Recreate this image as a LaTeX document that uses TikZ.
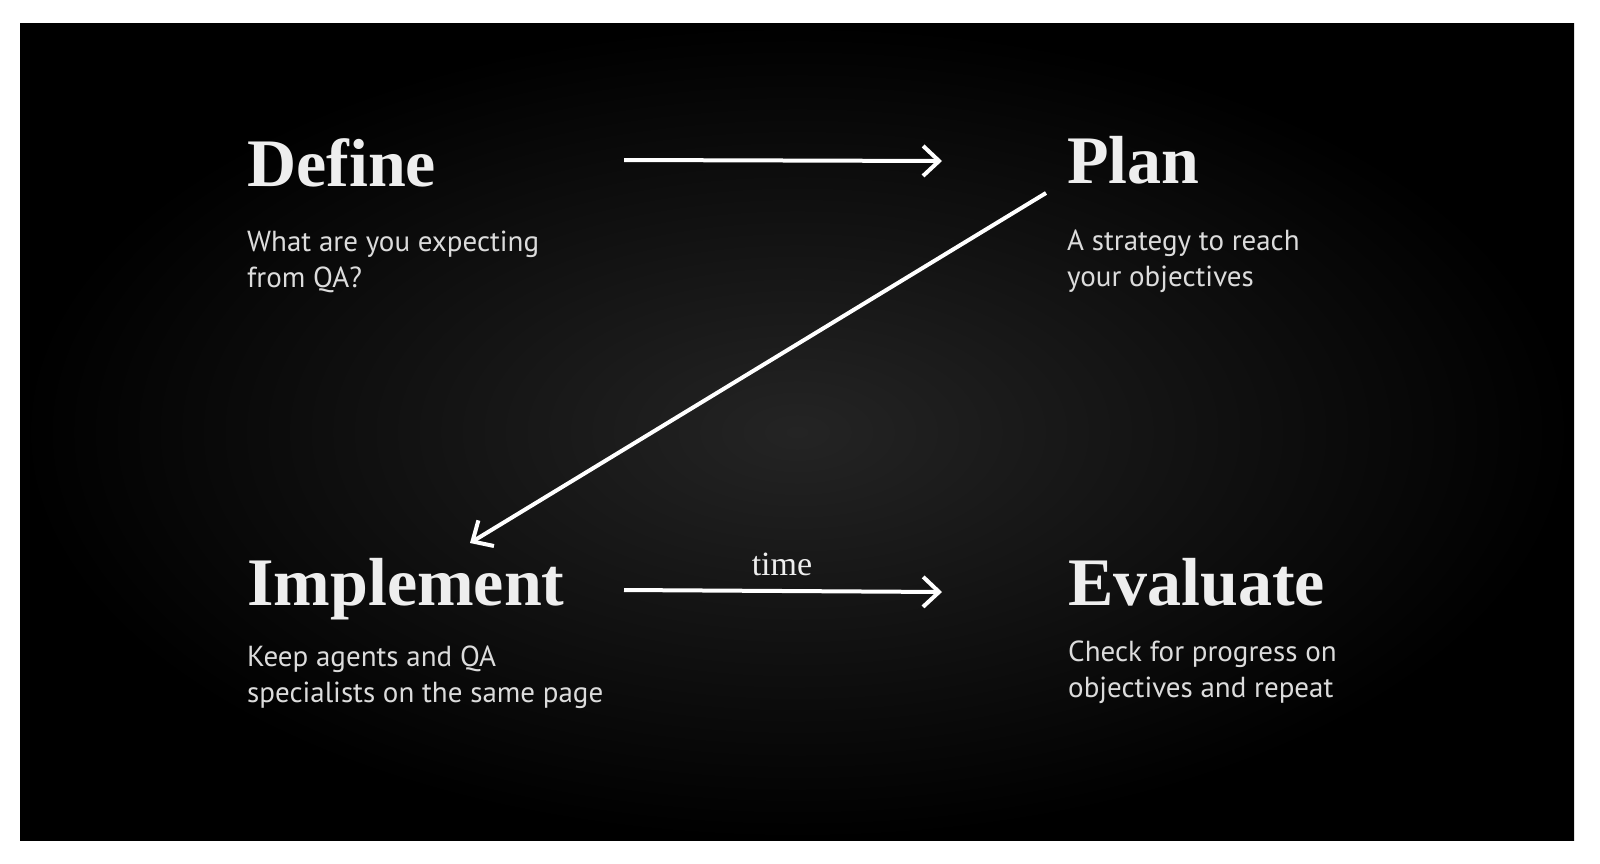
\documentclass[tikz,border=0pt]{standalone}
\usepackage{fontspec}
\setmainfont{PT Sans}
\newfontfamily\chalkfont{Liberation Serif}
\usetikzlibrary{arrows.meta}
\definecolor{board}{RGB}{36,36,36}
\definecolor{chalk}{RGB}{220,220,220}
\definecolor{chalktitle}{RGB}{238,238,238}
\begin{document}
\begin{tikzpicture}[x=1pt,y=-1pt,
	title/.style={anchor=base west,inner sep=0pt,text=chalktitle,font=\chalkfont\bfseries\fontsize{68}{68}\selectfont},
	info/.style={anchor=base west,inner sep=0pt,align=left,text=chalk,font=\fontsize{29}{36}\selectfont},
	chalkline/.style={draw=white,line width=4pt,-{Straight Barb[length=16pt,width=30pt]}}]
	\fill[color=white] (0,0) rectangle (1600,864);
	\shade[inner color=board,outer color=black] (20,24) rectangle (1574,840);
	% steps (info nodes sit on the baseline of their last line)
	\node[title] (define) at (247,186) {Define};
	\node[info] (definetext) at (247,287) {What are you expecting\\from QA?};
	\node[title] (plan) at (1067,183) {Plan};
	\node[info] (plantext) at (1067,286) {A strategy to reach\\your objectives};
	\node[title] (implement) at (247,605) {Implement};
	\node[info] (implementtext) at (247,702) {Keep agents and QA\\specialists on the same page};
	\node[title] (evaluate) at (1068,605) {Evaluate};
	\node[info] (evaluatetext) at (1068,697) {Check for progress on\\objectives and repeat};
	% arrows
	\coordinate (a) at (624,160);
	\coordinate (b) at (942,161);
	\coordinate (c) at (1046,193);
	\coordinate (d) at (470,543);
	\coordinate (e) at (624,590);
	\coordinate (f) at (942,592);
	\draw[chalkline] (a) -- (b);
	\draw[chalkline] (c) -- (d);
	\draw[chalkline] (e) -- (f);
	\node[anchor=base,inner sep=0pt,text=chalktitle,font=\chalkfont\fontsize{34}{34}\selectfont] (time) at (782,575) {time};
\end{tikzpicture}
\end{document}
